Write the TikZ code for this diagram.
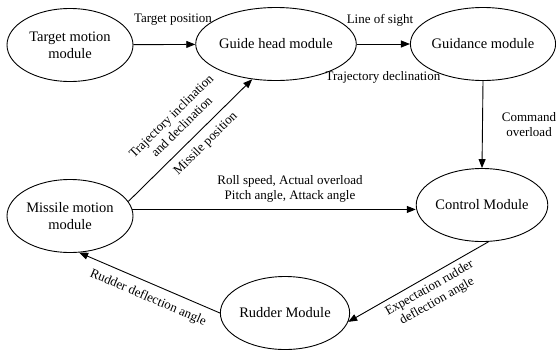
\documentclass[tikz,border=0pt]{standalone}
\usepackage{fontspec}
\setmainfont{Liberation Serif}
\usetikzlibrary{shapes.geometric,arrows.meta}
\begin{document}
\begin{tikzpicture}[x=1pt,y=-1pt,
  module/.style={ellipse, draw, line width=0.9pt, minimum width=126pt, minimum height=73pt, inner sep=0pt, align=center, font=\fontsize{14.5}{17}\selectfont},
  flow/.style={line width=0.9pt, -{Triangle[length=9pt,width=7pt]}},
  lab/.style={font=\fontsize{13}{15}\selectfont, align=center, inner sep=2pt}]
\useasboundingbox[fill=white] (0,0) rectangle (556,349);
\node[module] (tm) at (70,45) {Target motion\\module};
\node[module] (gh) at (276,44) {Guide head module};
\node[module] (gd) at (483,44) {Guidance module};
\node[module] (ctl) at (482,205) {Control Module};
\node[module] (mm) at (70,216) {Missile motion\\module};
\node[module] (rd) at (285,313) {Rudder Module};

\node[lab] (tpos) at (173,20) {Target position};
\node[lab] (los) at (380,20) {Line of sight};
\node[lab] (tdec) at (383,77) {Trajectory declination};
\node[lab] (cmd) at (529,125) {Command\\overload};
\node[lab] (roll) at (290,189) {Roll speed, Actual overload\\Pitch angle, Attack angle};

\draw[flow] (tm) -- (gh);
\draw[flow] (gh) -- (gd);
\draw[flow] (gd.south) -- (ctl.north);
\draw[flow] (mm.6) -- (mm.6 -| ctl.west);
\draw[flow] (mm.14) --
  node[lab, sloped, above=9pt, pos=0.52] {Trajectory inclination\\and declination}
  node[lab, sloped, below=5pt, pos=0.55] {Missile position} (gh.236);
\draw[flow] (ctl.280) --
  node[lab, sloped, below=3pt, pos=0.46] {Expectation rudder\\deflection angle} (rd.352);
\draw[flow] (rd.180) --
  node[lab, sloped, below=6pt, pos=0.47] {Rudder deflection angle} (mm.284);
\end{tikzpicture}
\end{document}
